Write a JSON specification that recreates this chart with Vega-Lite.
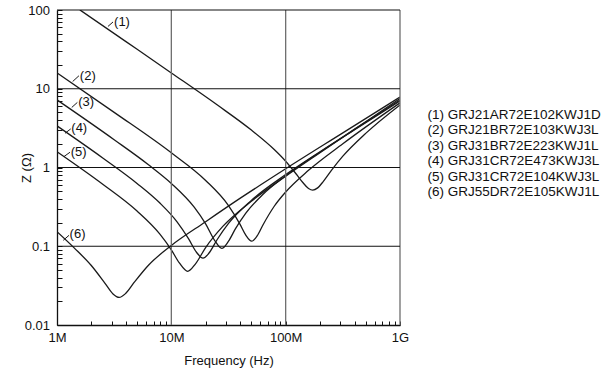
{
  "$schema": "https://vega.github.io/schema/vega-lite/v6.json",
  "width": 343,
  "height": 315,
  "autosize": {"type": "none"},
  "padding": {"left": 57, "top": 10, "right": 213, "bottom": 46},
  "config": {"view": {"stroke": null}, "font": "Liberation Sans"},
  "datasets": {
    "curves": [
      {"label": "(1) GRJ21AR72E102KWJ1D", "f": 1584893, "z": 100.4},
      {"label": "(1) GRJ21AR72E102KWJ1D", "f": 3981072, "z": 39.97},
      {"label": "(1) GRJ21AR72E102KWJ1D", "f": 10000000, "z": 15.88},
      {"label": "(1) GRJ21AR72E102KWJ1D", "f": 25118864, "z": 6.246},
      {"label": "(1) GRJ21AR72E102KWJ1D", "f": 50118723, "z": 2.984},
      {"label": "(1) GRJ21AR72E102KWJ1D", "f": 79432823, "z": 1.691},
      {"label": "(1) GRJ21AR72E102KWJ1D", "f": 100000000, "z": 1.202},
      {"label": "(1) GRJ21AR72E102KWJ1D", "f": 125892541, "z": 0.8},
      {"label": "(1) GRJ21AR72E102KWJ1D", "f": 141253754, "z": 0.645},
      {"label": "(1) GRJ21AR72E102KWJ1D", "f": 158489319, "z": 0.541},
      {"label": "(1) GRJ21AR72E102KWJ1D", "f": 172580000, "z": 0.516},
      {"label": "(1) GRJ21AR72E102KWJ1D", "f": 190546072, "z": 0.551},
      {"label": "(1) GRJ21AR72E102KWJ1D", "f": 213796209, "z": 0.668},
      {"label": "(1) GRJ21AR72E102KWJ1D", "f": 251188643, "z": 0.919},
      {"label": "(1) GRJ21AR72E102KWJ1D", "f": 316227766, "z": 1.392},
      {"label": "(1) GRJ21AR72E102KWJ1D", "f": 501187234, "z": 2.713},
      {"label": "(1) GRJ21AR72E102KWJ1D", "f": 1000000000, "z": 6.236},
      {"label": "(2) GRJ21BR72E103KWJ3L", "f": 1000000, "z": 15.91},
      {"label": "(2) GRJ21BR72E103KWJ3L", "f": 3162278, "z": 5.014},
      {"label": "(2) GRJ21BR72E103KWJ3L", "f": 10000000, "z": 1.535},
      {"label": "(2) GRJ21BR72E103KWJ3L", "f": 19952623, "z": 0.685},
      {"label": "(2) GRJ21BR72E103KWJ3L", "f": 31622777, "z": 0.3285},
      {"label": "(2) GRJ21BR72E103KWJ3L", "f": 39810717, "z": 0.191},
      {"label": "(2) GRJ21BR72E103KWJ3L", "f": 44668359, "z": 0.1396},
      {"label": "(2) GRJ21BR72E103KWJ3L", "f": 50466000, "z": 0.116},
      {"label": "(2) GRJ21BR72E103KWJ3L", "f": 56234133, "z": 0.135},
      {"label": "(2) GRJ21BR72E103KWJ3L", "f": 63095734, "z": 0.185},
      {"label": "(2) GRJ21BR72E103KWJ3L", "f": 79432823, "z": 0.322},
      {"label": "(2) GRJ21BR72E103KWJ3L", "f": 100000000, "z": 0.4886},
      {"label": "(2) GRJ21BR72E103KWJ3L", "f": 158489319, "z": 0.921},
      {"label": "(2) GRJ21BR72E103KWJ3L", "f": 316227766, "z": 2.003},
      {"label": "(2) GRJ21BR72E103KWJ3L", "f": 1000000000, "z": 6.62},
      {"label": "(3) GRJ31BR72E223KWJ1L", "f": 1000000, "z": 7.221},
      {"label": "(3) GRJ31BR72E223KWJ1L", "f": 3162278, "z": 2.252},
      {"label": "(3) GRJ31BR72E223KWJ1L", "f": 6309573, "z": 1.083},
      {"label": "(3) GRJ31BR72E223KWJ1L", "f": 10000000, "z": 0.627},
      {"label": "(3) GRJ31BR72E223KWJ1L", "f": 15848932, "z": 0.313},
      {"label": "(3) GRJ31BR72E223KWJ1L", "f": 19952623, "z": 0.1926},
      {"label": "(3) GRJ31BR72E223KWJ1L", "f": 23988329, "z": 0.118},
      {"label": "(3) GRJ31BR72E223KWJ1L", "f": 27606000, "z": 0.094},
      {"label": "(3) GRJ31BR72E223KWJ1L", "f": 31622777, "z": 0.1159},
      {"label": "(3) GRJ31BR72E223KWJ1L", "f": 36307805, "z": 0.1662},
      {"label": "(3) GRJ31BR72E223KWJ1L", "f": 44668359, "z": 0.262},
      {"label": "(3) GRJ31BR72E223KWJ1L", "f": 63095734, "z": 0.4529},
      {"label": "(3) GRJ31BR72E223KWJ1L", "f": 100000000, "z": 0.784},
      {"label": "(3) GRJ31BR72E223KWJ1L", "f": 199526231, "z": 1.564},
      {"label": "(3) GRJ31BR72E223KWJ1L", "f": 398107171, "z": 2.992},
      {"label": "(3) GRJ31BR72E223KWJ1L", "f": 1000000000, "z": 6.98},
      {"label": "(4) GRJ31CR72E473KWJ3L", "f": 1000000, "z": 3.374},
      {"label": "(4) GRJ31CR72E473KWJ3L", "f": 2511886, "z": 1.321},
      {"label": "(4) GRJ31CR72E473KWJ3L", "f": 5011872, "z": 0.6278},
      {"label": "(4) GRJ31CR72E473KWJ3L", "f": 7943282, "z": 0.3535},
      {"label": "(4) GRJ31CR72E473KWJ3L", "f": 11220185, "z": 0.2043},
      {"label": "(4) GRJ31CR72E473KWJ3L", "f": 14125375, "z": 0.1251},
      {"label": "(4) GRJ31CR72E473KWJ3L", "f": 16595869, "z": 0.0839},
      {"label": "(4) GRJ31CR72E473KWJ3L", "f": 18923000, "z": 0.0705},
      {"label": "(4) GRJ31CR72E473KWJ3L", "f": 21379621, "z": 0.0821},
      {"label": "(4) GRJ31CR72E473KWJ3L", "f": 25118864, "z": 0.121},
      {"label": "(4) GRJ31CR72E473KWJ3L", "f": 31622777, "z": 0.1949},
      {"label": "(4) GRJ31CR72E473KWJ3L", "f": 50118723, "z": 0.3824},
      {"label": "(4) GRJ31CR72E473KWJ3L", "f": 100000000, "z": 0.8127},
      {"label": "(4) GRJ31CR72E473KWJ3L", "f": 199526231, "z": 1.588},
      {"label": "(4) GRJ31CR72E473KWJ3L", "f": 398107171, "z": 3.045},
      {"label": "(4) GRJ31CR72E473KWJ3L", "f": 1000000000, "z": 7.19},
      {"label": "(5) GRJ31CR72E104KWJ3L", "f": 1000000, "z": 1.583},
      {"label": "(5) GRJ31CR72E104KWJ3L", "f": 2511886, "z": 0.612},
      {"label": "(5) GRJ31CR72E104KWJ3L", "f": 5011872, "z": 0.2795},
      {"label": "(5) GRJ31CR72E104KWJ3L", "f": 7943282, "z": 0.1423},
      {"label": "(5) GRJ31CR72E104KWJ3L", "f": 10000000, "z": 0.09},
      {"label": "(5) GRJ31CR72E104KWJ3L", "f": 11748976, "z": 0.0614},
      {"label": "(5) GRJ31CR72E104KWJ3L", "f": 13900000, "z": 0.048},
      {"label": "(5) GRJ31CR72E104KWJ3L", "f": 16218101, "z": 0.0594},
      {"label": "(5) GRJ31CR72E104KWJ3L", "f": 19952623, "z": 0.0963},
      {"label": "(5) GRJ31CR72E104KWJ3L", "f": 28183829, "z": 0.1786},
      {"label": "(5) GRJ31CR72E104KWJ3L", "f": 50118723, "z": 0.3728},
      {"label": "(5) GRJ31CR72E104KWJ3L", "f": 100000000, "z": 0.775},
      {"label": "(5) GRJ31CR72E104KWJ3L", "f": 199526231, "z": 1.543},
      {"label": "(5) GRJ31CR72E104KWJ3L", "f": 398107171, "z": 3.043},
      {"label": "(5) GRJ31CR72E104KWJ3L", "f": 1000000000, "z": 7.5},
      {"label": "(6) GRJ55DR72E105KWJ1L", "f": 1000000, "z": 0.153},
      {"label": "(6) GRJ55DR72E105KWJ1L", "f": 1412538, "z": 0.0953},
      {"label": "(6) GRJ55DR72E105KWJ1L", "f": 1995262, "z": 0.0569},
      {"label": "(6) GRJ55DR72E105KWJ1L", "f": 2630268, "z": 0.0338},
      {"label": "(6) GRJ55DR72E105KWJ1L", "f": 3090295, "z": 0.0248},
      {"label": "(6) GRJ55DR72E105KWJ1L", "f": 3491400, "z": 0.0224},
      {"label": "(6) GRJ55DR72E105KWJ1L", "f": 3981072, "z": 0.0251},
      {"label": "(6) GRJ55DR72E105KWJ1L", "f": 4786301, "z": 0.0355},
      {"label": "(6) GRJ55DR72E105KWJ1L", "f": 6309573, "z": 0.0574},
      {"label": "(6) GRJ55DR72E105KWJ1L", "f": 10000000, "z": 0.1023},
      {"label": "(6) GRJ55DR72E105KWJ1L", "f": 19952623, "z": 0.205},
      {"label": "(6) GRJ55DR72E105KWJ1L", "f": 39810717, "z": 0.405},
      {"label": "(6) GRJ55DR72E105KWJ1L", "f": 100000000, "z": 0.964},
      {"label": "(6) GRJ55DR72E105KWJ1L", "f": 316227766, "z": 2.754},
      {"label": "(6) GRJ55DR72E105KWJ1L", "f": 1000000000, "z": 7.85}
    ],
    "vgrid": [{"f": 10000000}, {"f": 100000000}, {"f": 1000000000}],
    "hgrid": [{"z": 0.1}, {"z": 1}, {"z": 10}, {"z": 100}],
    "tags": [
      {"t": "(1)", "f": 2790000, "z": 61.8, "f2": 3090000, "z2": 70.5, "tf": 3155000, "tz": 70.5},
      {"t": "(2)", "f": 1371000, "z": 12.36, "f2": 1556000, "z2": 14.62, "tf": 1585000, "tz": 14.62},
      {"t": "(3)", "f": 1346000, "z": 5.79, "f2": 1507000, "z2": 6.71, "tf": 1531000, "tz": 6.76},
      {"t": "(4)", "f": 1175000, "z": 2.72, "f2": 1318000, "z2": 3.09, "tf": 1334000, "tz": 3.16},
      {"t": "(5)", "f": 1151000, "z": 1.377, "f2": 1300000, "z2": 1.563, "tf": 1318000, "tz": 1.585},
      {"t": "(6)", "f": 1135000, "z": 0.119, "f2": 1274000, "z2": 0.1377, "tf": 1288000, "tz": 0.1413}
    ]
  },
  "layer": [
    {
      "data": {"name": "curves"},
      "mark": {"type": "line", "interpolate": "monotone", "strokeWidth": 1.3, "clip": true},
      "encoding": {
        "x": {
          "field": "f", "type": "quantitative",
          "scale": {"type": "log", "domain": [1000000, 1000000000], "nice": false},
          "axis": {
            "title": "Frequency (Hz)",
            "values": [1000000, 2000000, 3000000, 4000000, 5000000, 6000000, 7000000, 8000000, 9000000, 10000000, 20000000, 30000000, 40000000, 50000000, 60000000, 70000000, 80000000, 90000000, 100000000, 200000000, 300000000, 400000000, 500000000, 600000000, 700000000, 800000000, 900000000, 1000000000],
            "labelExpr": "datum.value==1000000?'1M':datum.value==10000000?'10M':datum.value==100000000?'100M':datum.value==1000000000?'1G':''",
            "grid": false,
            "tickSize": -4,
            "tickColor": "#111111",
            "domainColor": "#111111",
            "domainWidth": 1.3,
            "labelFontSize": 13,
            "labelColor": "#111111",
            "labelPadding": 10,
            "labelFlush": false,
            "labelOverlap": false,
            "titleFontSize": 13,
            "titleFontWeight": "normal",
            "titleColor": "#111111",
            "titlePadding": 10
          }
        },
        "y": {
          "field": "z", "type": "quantitative",
          "scale": {"type": "log", "domain": [0.01, 100], "nice": false},
          "axis": {
            "title": "Z (Ω)",
            "values": [0.01, 0.02, 0.03, 0.04, 0.05, 0.06, 0.07, 0.08, 0.09, 0.1, 0.2, 0.3, 0.4, 0.5, 0.6, 0.7, 0.8, 0.9, 1, 2, 3, 4, 5, 6, 7, 8, 9, 10, 20, 30, 40, 50, 60, 70, 80, 90, 100],
            "labelExpr": "datum.value==100?'100':datum.value==10?'10':datum.value==1?'1':datum.value==0.1?'0.1':datum.value==0.01?'0.01':''",
            "grid": false,
            "tickSize": -5,
            "tickColor": "#111111",
            "domainColor": "#111111",
            "domainWidth": 1.3,
            "labelFontSize": 13,
            "labelColor": "#111111",
            "labelPadding": 12.5,
            "labelFlush": false,
            "labelOverlap": false,
            "titleFontSize": 13,
            "titleFontWeight": "normal",
            "titleColor": "#111111",
            "titlePadding": -9.5
          }
        },
        "color": {
          "field": "label", "type": "nominal",
          "scale": {"range": ["#1a1a1a", "#1a1a1a", "#1a1a1a", "#1a1a1a", "#1a1a1a", "#1a1a1a"]},
          "legend": {
            "title": null,
            "orient": "none",
            "legendX": 357,
            "legendY": 98,
            "symbolSize": 0,
            "symbolStrokeWidth": 0,
            "labelOffset": 0,
            "labelFontSize": 13.5,
            "labelColor": "#111111",
            "labelLimit": 400,
            "rowPadding": 0.5,
            "padding": 0
          }
        }
      }
    },
    {
      "data": {"name": "vgrid"},
      "mark": {"type": "rule", "color": "#6e6e6e", "strokeWidth": 1.3},
      "encoding": {
        "x": {"field": "f", "type": "quantitative"}
      }
    },
    {
      "data": {"name": "hgrid"},
      "mark": {"type": "rule", "color": "#111111", "strokeWidth": 1.2},
      "encoding": {
        "y": {"field": "z", "type": "quantitative"}
      }
    },
    {
      "data": {"name": "tags"},
      "mark": {"type": "rule", "color": "#1a1a1a", "strokeWidth": 1},
      "encoding": {
        "x": {"field": "f", "type": "quantitative"},
        "x2": {"field": "f2"},
        "y": {"field": "z", "type": "quantitative"},
        "y2": {"field": "z2"}
      }
    },
    {
      "data": {"name": "tags"},
      "mark": {"type": "text", "align": "left", "baseline": "middle", "fontSize": 13, "color": "#111111"},
      "encoding": {
        "x": {"field": "tf", "type": "quantitative"},
        "y": {"field": "tz", "type": "quantitative"},
        "text": {"field": "t"}
      }
    }
  ]
}
